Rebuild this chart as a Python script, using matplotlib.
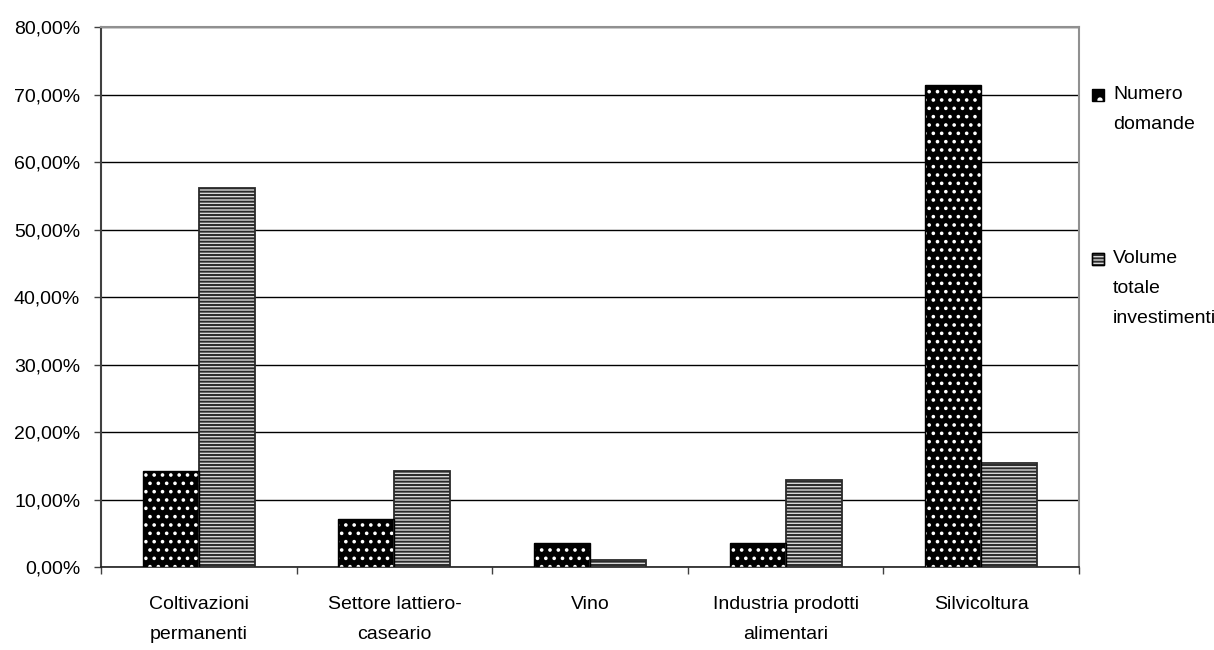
import matplotlib
matplotlib.use("Agg")
import matplotlib.pyplot as plt
from matplotlib.patches import Rectangle
from matplotlib.ticker import FuncFormatter
import numpy as np

plt.rcParams['font.family'] = ['Liberation Sans', 'DejaVu Sans']
plt.rcParams['hatch.linewidth'] = 1.4

categories = ["Coltivazioni\npermanenti", "Settore lattiero-\ncaseario", "Vino",
              "Industria prodotti\nalimentari", "Silvicoltura"]
numero_domande = [0.1429, 0.0714, 0.0357, 0.0357, 0.7143]
volume_investimenti = [0.562, 0.143, 0.011, 0.129, 0.154]
series_labels = ["Numero\ndomande", "Volume\ntotale\ninvestimenti"]
y_ticks = np.arange(0, 0.81, 0.1)

# bar styles: black with white dots, grey with horizontal stripes
dot_style = dict(facecolor='black', edgecolor='white', hatch='..', linewidth=0)
stripe_style = dict(facecolor='#d8d8d8', edgecolor='#2a2a2a', hatch='-----', linewidth=1.3)

fig = plt.figure(figsize=(12.14, 6.5), dpi=100)
ax = fig.add_axes([0.0832, 0.1272, 0.8056, 0.8308])

x = np.arange(len(categories))
width = 0.286

ax.bar(x - width / 2, numero_domande, width, zorder=3, **dot_style)
ax.bar(x - width / 2, numero_domande, width, fill=False, edgecolor='black',
       linewidth=1, zorder=4)
ax.bar(x + width / 2, volume_investimenti, width, zorder=3, **stripe_style)

ax.set_xlim(-0.5, len(categories) - 0.5)
ax.set_ylim(0, 0.8)
ax.set_yticks(y_ticks)
ax.yaxis.set_major_formatter(FuncFormatter(lambda v, p: f"{v * 100:.2f}%".replace('.', ',')))
ax.yaxis.grid(True, color='black', linewidth=1)
ax.set_axisbelow(True)

# ticks at category boundaries, labels at category centres
ax.set_xticks(np.arange(-0.5, len(categories), 1.0))
ax.set_xticklabels([])
ax.set_xticks(x, minor=True)
ax.set_xticklabels(categories, minor=True, fontsize=14, linespacing=2.0)
ax.tick_params(axis='x', which='minor', length=0, pad=21)
ax.tick_params(axis='x', which='major', length=5, width=1, color='#404040')
ax.tick_params(axis='y', length=5, width=1, color='#404040', labelsize=14, pad=10)

ax.spines['left'].set_color('#404040')
ax.spines['left'].set_linewidth(1.5)
ax.spines['bottom'].set_color('#202020')
ax.spines['bottom'].set_linewidth(1.2)
ax.spines['top'].set_color('#909090')
ax.spines['top'].set_linewidth(1.5)
ax.spines['right'].set_color('#909090')
ax.spines['right'].set_linewidth(1.5)

# legend: small swatch next to the first line of each label
W, H = 1214, 650
legend_tops = [88, 252]
swatches = [dict(dot_style, hatch='.'), dict(stripe_style, linewidth=1.0)]
for top, label, sw in zip(legend_tops, series_labels, swatches):
    box = (1092 / W, 1 - (top + 13) / H)
    fig.add_artist(Rectangle(box, 12 / W, 12 / H, transform=fig.transFigure, **sw))
    fig.add_artist(Rectangle(box, 12 / W, 12 / H, transform=fig.transFigure,
                             fill=False, edgecolor='black', linewidth=1))
    fig.text(1113 / W, 1 - (top - 2) / H, label, fontsize=14, va='top', ha='left',
             linespacing=2.0)

fig.savefig("out.png", dpi=100)
